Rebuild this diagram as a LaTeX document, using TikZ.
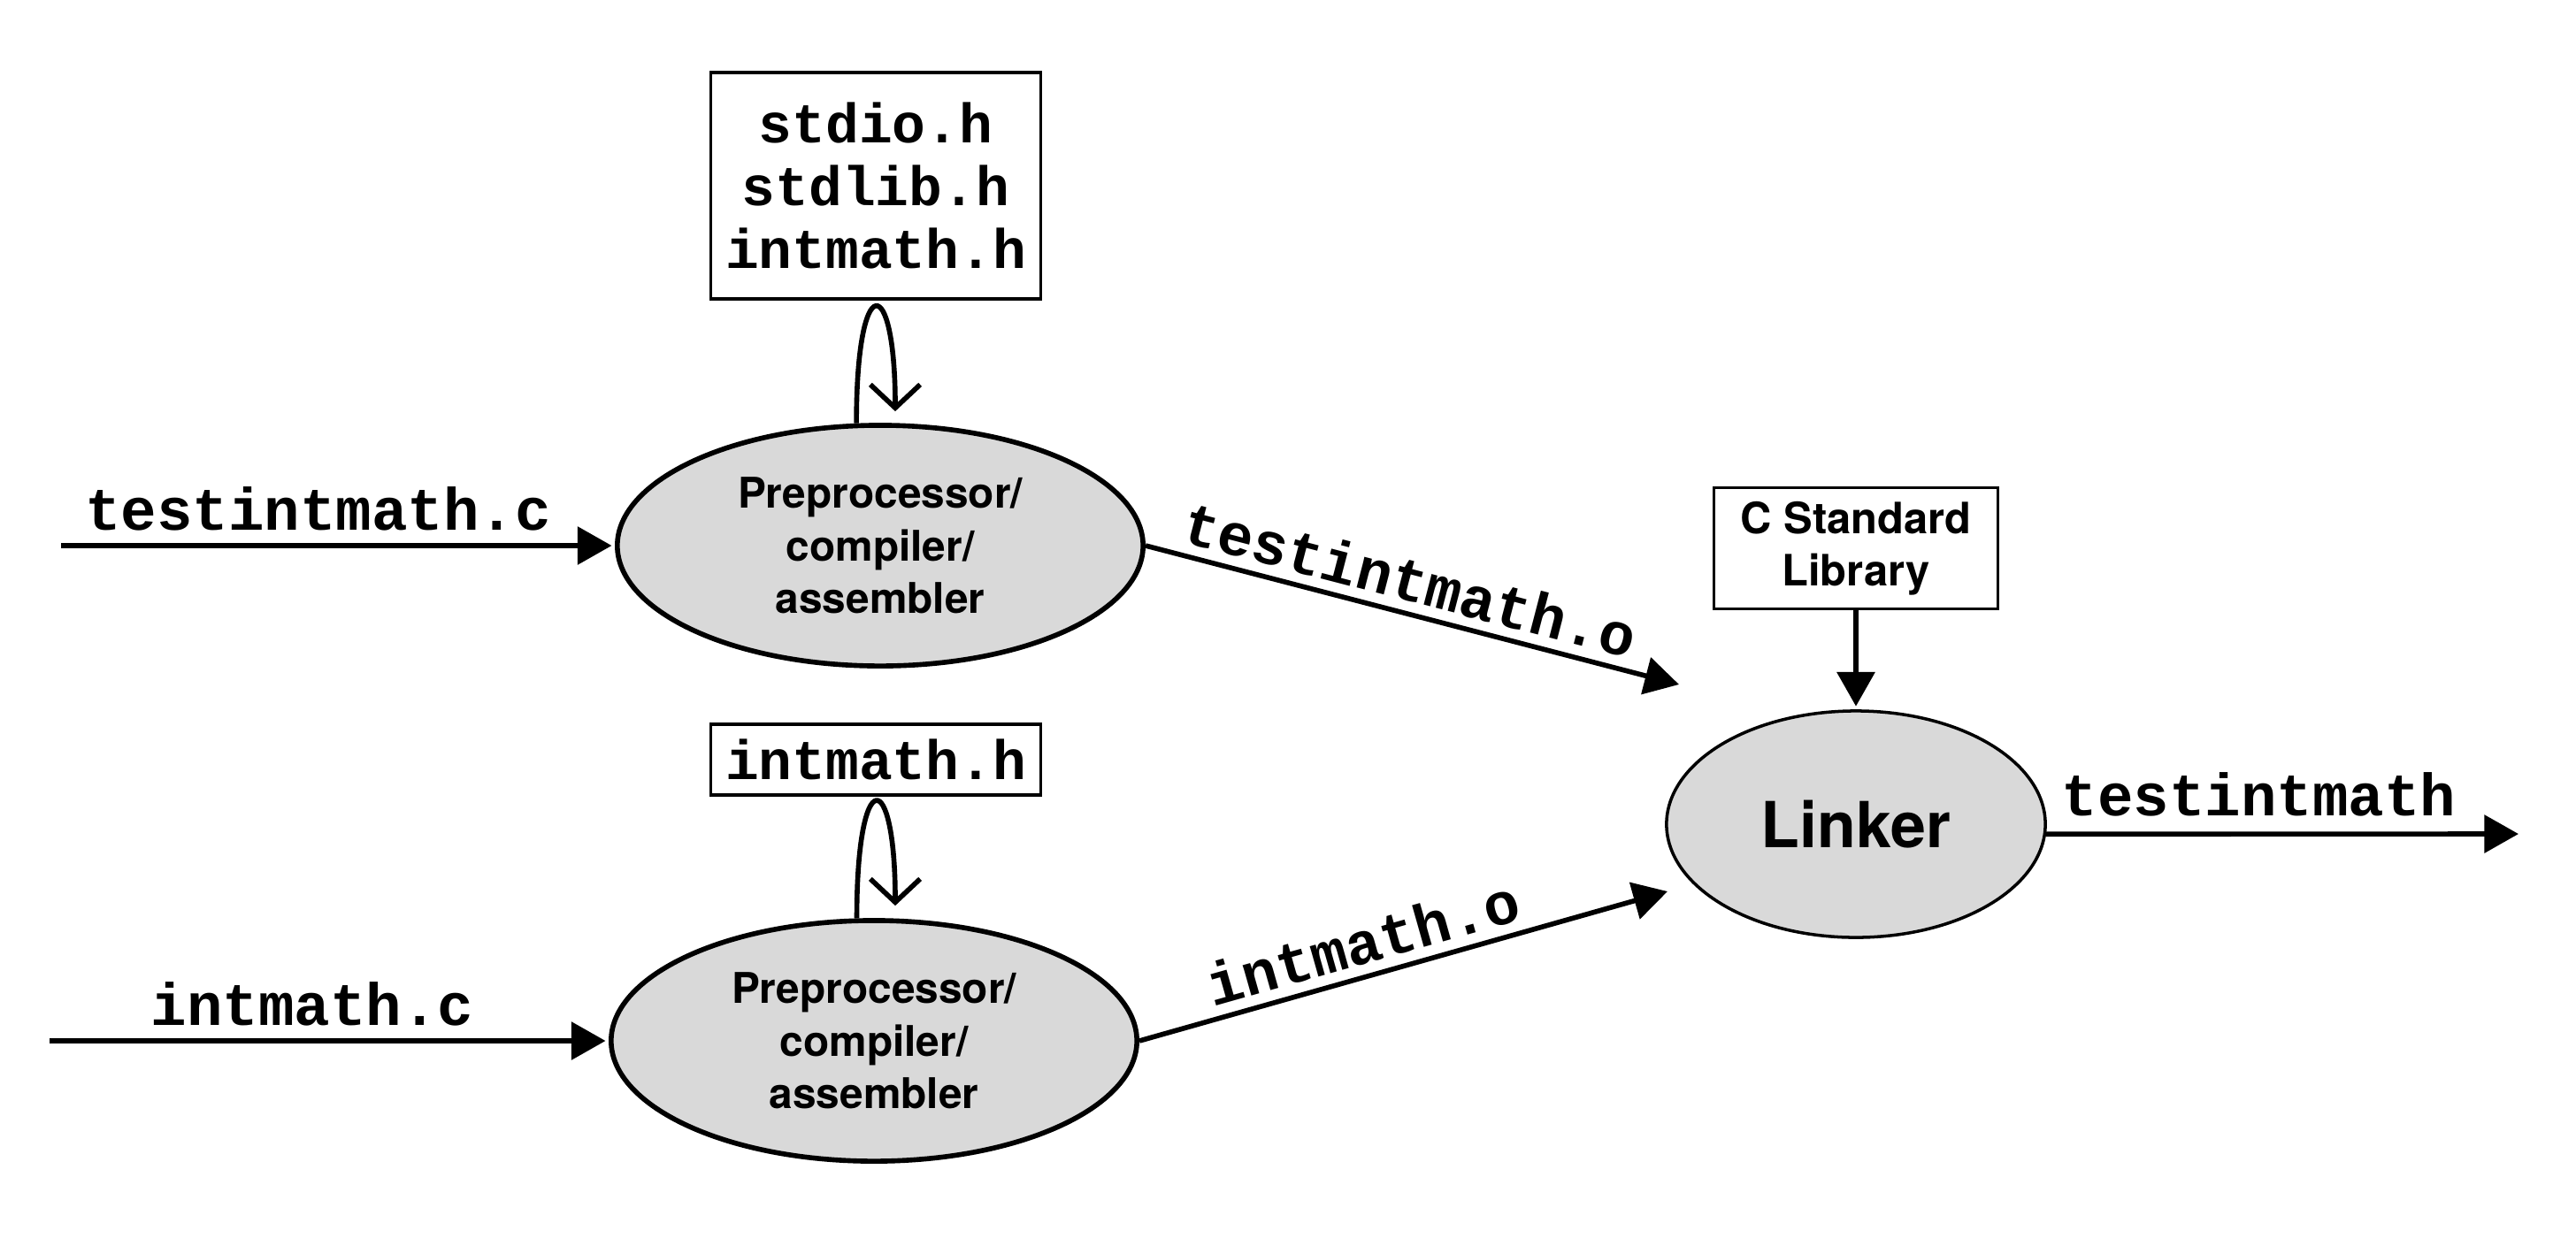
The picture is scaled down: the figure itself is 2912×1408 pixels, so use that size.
\documentclass[tikz,border=0pt]{standalone}
\usepackage{fontspec}
\setmainfont{TeX Gyre Heros}
\setsansfont{TeX Gyre Heros}
\setmonofont{Liberation Mono}
\usetikzlibrary{shapes.geometric,arrows.meta,calc}
\definecolor{procfill}{RGB}{217,217,217}
\begin{document}
\begin{tikzpicture}[x=0.01cm,y=-0.01cm,
  proc/.style={ellipse,draw,line width=1.6pt,fill=procfill,inner sep=0pt,minimum width=5.94cm,minimum height=2.72cm,align=center,font=\sffamily\bfseries\fontsize{13.6}{16.9}\selectfont},
  linkst/.style={ellipse,draw,line width=1pt,fill=procfill,inner sep=0pt,minimum width=4.28cm,minimum height=2.56cm,font=\sffamily\bfseries\fontsize{20.4}{24}\selectfont},
  hdr/.style={draw,line width=1pt,inner sep=0pt,minimum width=3.73cm,align=center,font=\ttfamily\bfseries\fontsize{17.9}{20.3}\selectfont},
  libbox/.style={draw,line width=1pt,inner sep=0pt,minimum width=3.21cm,minimum height=1.37cm,align=center,font=\sffamily\bfseries\fontsize{13.9}{16.8}\selectfont},
  flow/.style={line width=1.6pt,-{Triangle[length=11pt,width=12pt]}},
  loopar/.style={line width=1.6pt,-{Straight Barb[length=7.5pt,width=16pt]}},
  lbl/.style={font=\ttfamily\bfseries\fontsize{19.2}{23}\selectfont,inner sep=0pt}
]
\useasboundingbox (0,0) rectangle (2912,1408);

\node[hdr, minimum height=2.56cm] (h1) at (990,210) {stdio.h\\stdlib.h\\intmath.h};
\node[proc] (p1) at (995,617) {Preprocessor/\\compiler/\\assembler};
\node[hdr, minimum height=0.80cm] (h2) at (990,859) {intmath.h};
\node[proc] (p2) at (988,1177) {Preprocessor/\\compiler/\\assembler};
\node[linkst] (lk) at (2098,932) {Linker};
\node[libbox] (lib) at (2098,620) {C Standard\\Library};

\coordinate (in1) at (69,617);
\coordinate (in2) at (56,1177);
\coordinate (o1) at (1898,774);
\coordinate (o2) at (1885,1008);
\coordinate (out) at (2847,943);

\draw[flow, shorten >=1pt] (in1) -- (p1.west) node[lbl, pos=0.464, above=4pt]{testintmath.c};
\draw[flow, shorten >=1pt] (in2) -- (p2.west) node[lbl, pos=0.47, above=4pt]{intmath.c};
\draw[flow] (p1.east) -- (o1) node[lbl, sloped, pos=0.48, above=3pt]{testintmath.o};
\draw[flow] (p2.east) -- (o2) node[lbl, sloped, pos=0.44, above=3pt]{intmath.o};
\draw[flow, shorten >=1pt] (lib.south) -- (lk.north);
\draw[flow] (lk.-3) -- (out) node[lbl, pos=0.45, above=5pt]{testintmath};

\draw[loopar] (p1.101) .. controls +(0,-176) and +(0,-158) .. ($(p1.north)+(17,-13)$);
\draw[loopar] (p2.98) .. controls +(0,-176) and +(0,-158) .. ($(p2.north)+(24,-14)$);
\end{tikzpicture}
\end{document}
